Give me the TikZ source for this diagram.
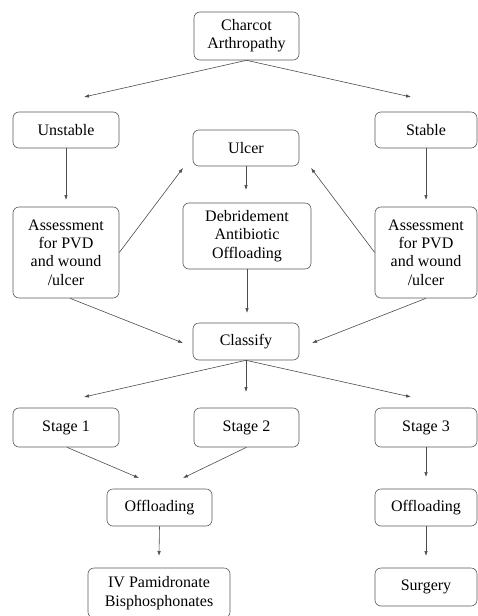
\documentclass[tikz,border=0pt]{standalone}
\usepackage{fontspec}
\setmainfont{Liberation Serif}
\usetikzlibrary{arrows.meta}
\begin{document}
\begin{tikzpicture}[x=1pt,y=-1pt,
 box/.style={draw=black!65, line width=0.6pt, rounded corners=6pt, align=center,
   font=\fontsize{16}{18.3}\selectfont, inner sep=0pt, text=black},
 arr/.style={draw=black!70, line width=0.6pt, -{Latex[length=5pt,width=3.5pt]}}]
\useasboundingbox (0,0) rectangle (478,616);
% nodes
\node[box, minimum width=105pt, minimum height=48pt] (charcot) at (246.5,36) {Charcot\\Arthropathy};
\node[box, minimum width=106pt, minimum height=36pt] (unstable) at (66,130) {Unstable};
\node[box, minimum width=102pt, minimum height=36pt] (stable) at (426,130) {Stable};
\node[box, minimum width=106pt, minimum height=36pt] (ulcer) at (246,148) {Ulcer};
\node[box, minimum width=106pt, minimum height=91pt] (assessL) at (66,252.5) {Assessment\\for PVD\\and wound\\/ulcer};
\node[box, minimum width=128pt, minimum height=66pt] (debr) at (247,236) {Debridement\\Antibiotic\\Offloading};
\node[box, minimum width=102pt, minimum height=91pt] (assessR) at (426,252.5) {Assessment\\for PVD\\and wound\\/ulcer};
\node[box, minimum width=106pt, minimum height=37pt] (classify) at (246,341.5) {Classify};
\node[box, minimum width=106pt, minimum height=39pt] (stage1) at (66,427.5) {Stage 1};
\node[box, minimum width=105pt, minimum height=39pt] (stage2) at (246.5,427.5) {Stage 2};
\node[box, minimum width=102pt, minimum height=39pt] (stage3) at (426,427.5) {Stage 3};
\node[box, minimum width=105pt, minimum height=37pt] (offL) at (159.5,507.5) {Offloading};
\node[box, minimum width=102pt, minimum height=37pt] (offR) at (426,507.5) {Offloading};
\node[box, minimum width=142pt, minimum height=50pt] (iv) at (159,593) {IV Pamidronate\\Bisphosphonates};
\node[box, minimum width=102pt, minimum height=38pt] (surgery) at (426,587) {Surgery};
% arrow tip coordinates
\coordinate (tUnst) at (84,97);
\coordinate (tStab) at (411,97);
\coordinate (tAL) at (66,200);
\coordinate (tAR) at (426,200);
\coordinate (tDeb) at (246,190);
\coordinate (tUlL) at (183,168);
\coordinate (tUlR) at (311,168);
\coordinate (tClD) at (247,313);
\coordinate (tClL) at (183,343);
\coordinate (tClR) at (312,343);
\coordinate (tS1) at (84,397);
\coordinate (tS2) at (246,392);
\coordinate (tS3) at (411,397);
\coordinate (tOL1) at (139,478);
\coordinate (tOL2) at (183,478);
\coordinate (tIV) at (159,556);
\coordinate (tOR) at (426,477);
\coordinate (tSu) at (426,556);
% connectors
\draw[arr] (charcot.south) -- (tUnst);
\draw[arr] (charcot.south) -- (tStab);
\draw[arr] (unstable.south) -- (tAL);
\draw[arr] (stable.south) -- (tAR);
\draw[arr] (ulcer.south) -- (tDeb);
\draw[arr] (assessL.east) -- (tUlL);
\draw[arr] (assessR.west) -- (tUlR);
\draw[arr] (debr.south) -- (tClD);
\draw[arr] ([xshift=4pt]assessL.south) -- (tClL);
\draw[arr] (assessR.south) -- (tClR);
\draw[arr] (classify.south) -- (tS1);
\draw[arr] (classify.south) -- (tS2);
\draw[arr] (classify.south) -- (tS3);
\draw[arr] ([xshift=1pt]stage1.south) -- (tOL1);
\draw[arr] (stage2.south) -- (tOL2);
\draw[arr] (offL.south) -- (tIV);
\draw[arr] (stage3.south) -- (tOR);
\draw[arr] (offR.south) -- (tSu);
\end{tikzpicture}
\end{document}
